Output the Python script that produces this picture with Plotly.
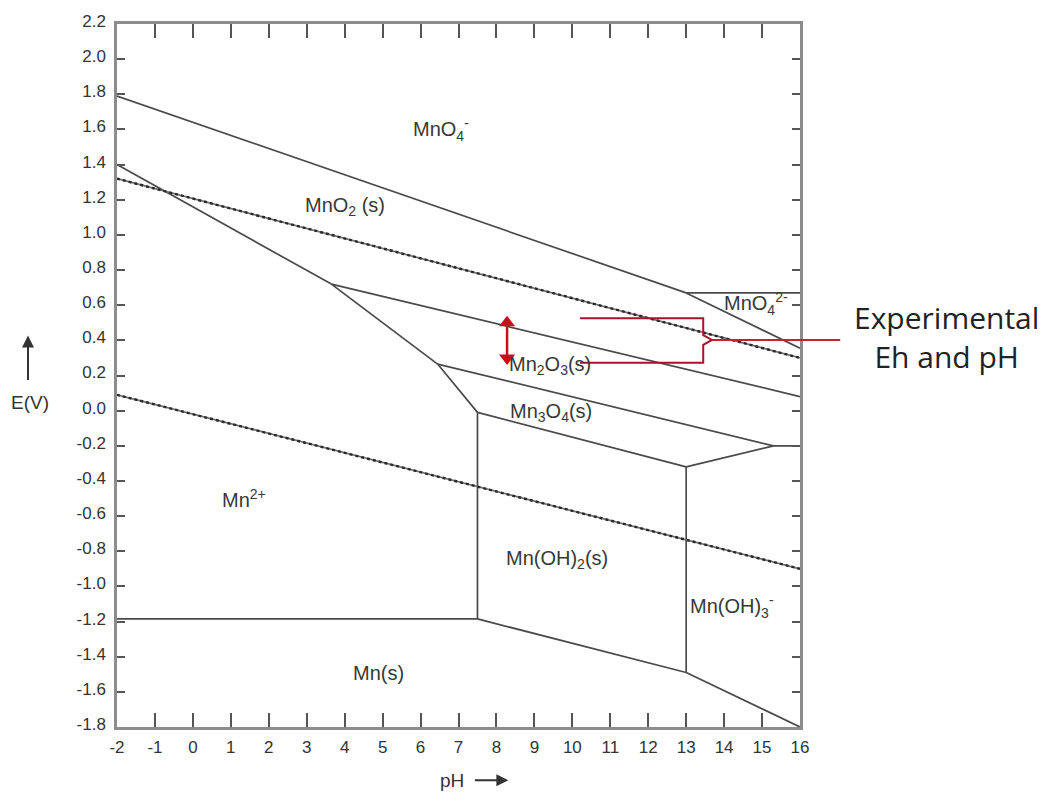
import plotly.graph_objects as go

# ---------------- data ----------------
PH_MIN, PH_MAX = -2, 16
E_MIN, E_MAX = -1.8, 2.2

x_ticks = list(range(-2, 17))
x_ticktext = [str(v) for v in x_ticks]
y_ticks = [round(-1.8 + 0.2 * i, 1) for i in range(21)]
y_ticktext = ["%.1f" % v for v in y_ticks]

# boundary lines (pH list, E list)
b_mno4_mno2 = ([-2, 13.0], [1.79, 0.67])
b_mno4_mno42 = ([13.0, 16], [0.67, 0.67])
b_mno42_mno2 = ([13.0, 16], [0.67, 0.355])
b_mno2_mn2 = ([-2, 3.65], [1.40, 0.72])
b_mn2o3_mn2 = ([3.65, 6.45], [0.72, 0.265])
b_mn3o4_mn2 = ([6.45, 7.5], [0.265, -0.01])
b_mno2_mn2o3 = ([3.65, 16], [0.72, 0.08])
b_mn2o3_mn3o4 = ([6.45, 15.3, 16], [0.265, -0.2, -0.2])
b_mn3o4_mnoh2 = ([7.5, 13.0], [-0.01, -0.32])
b_mn3o4_mnoh3 = ([13.0, 15.3], [-0.32, -0.2])
b_mnoh2_mn2 = ([7.5, 7.5], [-0.01, -1.185])
b_mn2_mn = ([-2, 7.5], [-1.185, -1.185])
b_mnoh2_mn = ([7.5, 13.0], [-1.185, -1.49])
b_mnoh2_mnoh3 = ([13.0, 13.0], [-0.32, -1.49])
b_mnoh3_mn = ([13.0, 16], [-1.49, -1.8])
boundaries = [b_mno4_mno2, b_mno4_mno42, b_mno42_mno2, b_mno2_mn2, b_mn2o3_mn2,
              b_mn3o4_mn2, b_mno2_mn2o3, b_mn2o3_mn3o4, b_mn3o4_mnoh2, b_mn3o4_mnoh3,
              b_mnoh2_mn2, b_mn2_mn, b_mnoh2_mn, b_mnoh2_mnoh3, b_mnoh3_mn]

# water stability lines
water_upper = ([-2, 16], [1.32, 0.30])
water_lower = ([-2, 16], [0.09, -0.90])

# region labels
label_text = ["MnO<sub>4</sub><sup>-</sup>", "MnO<sub>2</sub> (s)", "MnO<sub>4</sub><sup>2-</sup>",
              "Mn<sub>2</sub>O<sub>3</sub>(s)", "Mn<sub>3</sub>O<sub>4</sub>(s)", "Mn<sup>2+</sup>",
              "Mn(OH)<sub>2</sub>(s)", "Mn(OH)<sub>3</sub><sup>-</sup>", "Mn(s)"]
label_ph = [6.55, 4.0, 14.85, 9.4, 9.45, 1.35, 9.6, 14.2, 4.9]
label_e = [1.60, 1.16, 0.61, 0.255, -0.01, -0.50, -0.845, -1.115, -1.49]

# experimental annotation (pH, E)
arrow_ph = 8.28
arrow_e = [0.50, 0.30]
bracket_ph = [10.2, 13.45, 13.45, 13.68, 13.45, 13.45, 10.2]
bracket_e = [0.526, 0.526, 0.43, 0.402, 0.375, 0.273, 0.273]
pointer_ph = [13.68, 17.06]
pointer_e = [0.402, 0.402]

# ---------------- figure ----------------
fig = go.Figure()
LINE_C = "#4a4a4a"
for xs, ys in boundaries:
    fig.add_trace(go.Scatter(x=xs, y=ys, mode="lines", line=dict(color=LINE_C, width=1.7),
                             hoverinfo="skip", showlegend=False))
for xs, ys in (water_upper, water_lower):
    fig.add_trace(go.Scatter(x=xs, y=ys, mode="lines", line=dict(color="#6e6e6e", width=1.7),
                             hoverinfo="skip", showlegend=False))
    fig.add_trace(go.Scatter(x=xs, y=ys, mode="lines", line=dict(color="#2a2a2a", width=2.4, dash="dot"),
                             hoverinfo="skip", showlegend=False))

RED = "#c3101c"
fig.add_trace(go.Scatter(x=[arrow_ph, arrow_ph], y=arrow_e, mode="lines+markers",
                         line=dict(color=RED, width=2.5),
                         marker=dict(symbol=["triangle-up", "triangle-down"], size=14, color=RED),
                         hoverinfo="skip", showlegend=False))


def px_(ph):
    return (ph - PH_MIN) / (PH_MAX - PH_MIN)


def py_(e):
    return (e - E_MIN) / (E_MAX - E_MIN)


path = "M " + " L ".join("%.4f,%.4f" % (px_(a), py_(b)) for a, b in zip(bracket_ph, bracket_e))
fig.add_shape(type="path", path=path, xref="paper", yref="paper",
              line=dict(color="#a8122a", width=2))
fig.add_shape(type="line", xref="paper", yref="paper",
              x0=px_(pointer_ph[0]), y0=py_(pointer_e[0]), x1=px_(pointer_ph[1]), y1=py_(pointer_e[1]),
              line=dict(color="#c8202e", width=2))

for t, a, b in zip(label_text, label_ph, label_e):
    fig.add_annotation(x=a, y=b, text=t, showarrow=False, xanchor="center", yanchor="middle",
                       font=dict(family="Arial", size=20, color="#383838"))

fig.add_annotation(x=1.2138, y=0.5548, xref="paper", yref="paper", text="Experimental<br>Eh and pH",
                   showarrow=False, xanchor="center", yanchor="middle", align="center",
                   font=dict(family="Open Sans", size=30, color="#222222"))

# axis titles with arrows
fig.add_annotation(x=-0.1274, y=0.461, xref="paper", yref="paper", text="E(V)", showarrow=False,
                   xanchor="center", yanchor="middle",
                   font=dict(family="Arial", size=19, color="#333333"))
fig.add_annotation(x=-0.1303, y=0.557, ax=0, ay=46, xref="paper", yref="paper",
                   axref="pixel", ayref="pixel", text="", showarrow=True, arrowhead=2,
                   arrowsize=1.2, arrowwidth=2, arrowcolor="#333333")
fig.add_annotation(x=0.49, y=-0.0758, xref="paper", yref="paper", text="pH", showarrow=False,
                   xanchor="center", yanchor="middle",
                   font=dict(family="Arial", size=19, color="#333333"))
fig.add_annotation(x=0.573, y=-0.0758, ax=-35, ay=0, xref="paper", yref="paper",
                   axref="pixel", ayref="pixel", text="", showarrow=True, arrowhead=2,
                   arrowsize=1.2, arrowwidth=2, arrowcolor="#333333")

axis_common = dict(showline=True, linecolor="#8c8c8c", linewidth=2.5, mirror="ticks",
                   ticks="inside", tickcolor="#555555", tickwidth=2, showgrid=False,
                   zeroline=False, tickfont=dict(family="Arial", size=17, color="#333333"))
fig.update_xaxes(range=[PH_MIN, PH_MAX], tickvals=x_ticks, ticktext=x_ticktext, ticklen=14,
                 ticklabelstandoff=3, **axis_common)
fig.update_yaxes(range=[E_MIN, E_MAX], tickvals=y_ticks, ticktext=y_ticktext, ticklen=8,
                 ticklabelstandoff=5, ticklabelshift=-3, **axis_common)

fig.update_layout(width=1051, height=799, margin=dict(l=117, r=251, t=15, b=72),
                  plot_bgcolor="white", paper_bgcolor="white", showlegend=False)

fig.write_html("out.html")
